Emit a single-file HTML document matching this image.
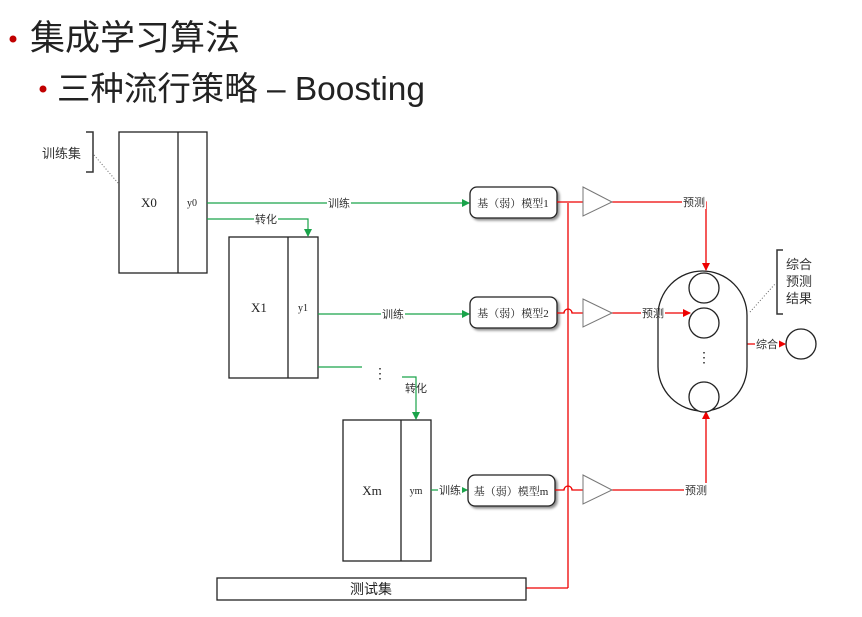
<!DOCTYPE html>
<html><head><meta charset="utf-8"><style>
html,body{margin:0;padding:0;background:#fff;}
svg{display:block;font-family:"Liberation Serif","Noto Serif CJK SC",serif;}
.s{font-family:"Liberation Sans","Noto Sans CJK SC",sans-serif;}
</style></head><body>
<svg width="862" height="617" viewBox="0 0 862 617" xmlns="http://www.w3.org/2000/svg">
<defs>
<marker id="ga" markerWidth="8" markerHeight="8" refX="7" refY="4" orient="auto" markerUnits="userSpaceOnUse"><path d="M0,0 L8,4 L0,8z" fill="#1aa34a"/></marker>
<marker id="ra" markerWidth="8" markerHeight="8" refX="7" refY="4" orient="auto" markerUnits="userSpaceOnUse"><path d="M0,0 L8,4 L0,8z" fill="#e00"/></marker>
<filter id="sh" x="-10%" y="-10%" width="130%" height="140%"><feDropShadow dx="2" dy="2" stdDeviation="1.2" flood-color="#000" flood-opacity="0.45"/></filter>
</defs>
<!-- titles -->
<circle cx="13" cy="39" r="3.5" fill="#c00000"/>
<text x="30" y="50" class="s" font-size="35" fill="#222" textLength="210" lengthAdjust="spacingAndGlyphs">集成学习算法</text>
<circle cx="43" cy="89" r="3.5" fill="#c00000"/>
<text x="57" y="100" class="s" font-size="33" fill="#222" textLength="368" lengthAdjust="spacingAndGlyphs">三种流行策略 – Boosting</text>

<!-- training set bracket -->
<text x="42" y="158" class="s" font-size="13" fill="#333">训练集</text>
<path d="M86,132 H93 V172 H86" fill="none" stroke="#333" stroke-width="1.5"/>
<line x1="94" y1="155" x2="118" y2="183" stroke="#666" stroke-dasharray="1,2"/>

<!-- data boxes -->
<g fill="#fff" stroke="#222" stroke-width="1.3">
<rect x="119" y="132" width="88" height="141"/><line x1="178" y1="132" x2="178" y2="273"/>
<rect x="229" y="237" width="89" height="141"/><line x1="288" y1="237" x2="288" y2="378"/>
<rect x="343" y="420" width="88" height="141"/><line x1="401" y1="420" x2="401" y2="561"/>
</g>
<g font-size="13" fill="#222" text-anchor="middle">
<text x="149" y="207">X0</text><text x="192" y="206" font-size="10">y0</text>
<text x="259" y="312">X1</text><text x="303" y="311" font-size="10">y1</text>
<text x="372" y="495">Xm</text><text x="416" y="494" font-size="10">ym</text>
</g>

<!-- green connectors -->
<g stroke="#1aa34a" stroke-width="1.2" fill="none">
<line x1="207" y1="203" x2="469" y2="203" marker-end="url(#ga)"/>
<path d="M207,219 H308 V236" marker-end="url(#ga)"/>
<line x1="318" y1="314" x2="469" y2="314" marker-end="url(#ga)"/>
<line x1="318" y1="367" x2="362" y2="367"/>
<path d="M402,377 H416 V419" marker-end="url(#ga)"/>
<line x1="431" y1="490" x2="467" y2="490" marker-end="url(#ga)"/>
</g>
<g font-size="11" fill="#333" text-anchor="middle" class="s">
<rect x="327" y="196" width="24" height="14" fill="#fff"/><text x="339" y="207">训练</text>
<rect x="254" y="212" width="24" height="14" fill="#fff"/><text x="266" y="223">转化</text>
<rect x="381" y="307" width="24" height="14" fill="#fff"/><text x="393" y="318">训练</text>
<text x="416" y="392">转化</text>
<rect x="438" y="483" width="24" height="14" fill="#fff"/><text x="450" y="494">训练</text>
</g>
<text x="380" y="378" font-size="14" text-anchor="middle" fill="#222">⋮</text>

<!-- model boxes -->
<g fill="#fff" stroke="#222" stroke-width="1.3" filter="url(#sh)">
<rect x="470" y="187" width="87" height="31" rx="7"/>
<rect x="470" y="297" width="87" height="31" rx="7"/>
<rect x="468" y="475" width="87" height="31" rx="7"/>
</g>
<g font-size="11" fill="#222" text-anchor="middle">
<text x="513" y="207">基（弱）模型1</text>
<text x="513" y="317">基（弱）模型2</text>
<text x="511" y="495">基（弱）模型m</text>
</g>

<!-- red connectors -->
<g stroke="#e00" stroke-width="1.3" fill="none">
<line x1="568" y1="203" x2="568" y2="588"/>
<line x1="557" y1="202" x2="593" y2="202"/>
<path d="M557,313 H564 A4,4 0 0 1 572,313 H593"/>
<path d="M555,490 H564 A4,4 0 0 1 572,490 H593"/>
<path d="M612,202 H706 V270" marker-end="url(#ra)"/>
<line x1="612" y1="313" x2="690" y2="313" marker-end="url(#ra)"/>
<path d="M612,490 H706 V412" marker-end="url(#ra)"/>
<line x1="747" y1="344" x2="785" y2="344" marker-end="url(#ra)"/>
<line x1="526" y1="588" x2="568" y2="588"/>
</g>
<g fill="#fff" stroke="#777" stroke-width="1">
<path d="M583,187 L612,202 L583,216z"/>
<path d="M583,299 L612,313 L583,327z"/>
<path d="M583,475 L612,490 L583,504z"/>
</g>
<g font-size="11" fill="#333" text-anchor="middle" class="s">
<rect x="682" y="195" width="24" height="14" fill="#fff"/><text x="694" y="206">预测</text>
<rect x="641" y="306" width="24" height="14" fill="#fff"/><text x="653" y="317">预测</text>
<rect x="684" y="483" width="24" height="14" fill="#fff"/><text x="696" y="494">预测</text>
<rect x="755" y="337" width="24" height="14" fill="#fff"/><text x="767" y="348">综合</text>
</g>

<!-- capsule -->
<rect x="658" y="271" width="89" height="140" rx="44.5" fill="none" stroke="#222" stroke-width="1.3"/>
<g fill="#fff" stroke="#222" stroke-width="1.3">
<circle cx="704" cy="288" r="15"/>
<circle cx="704" cy="323" r="15"/>
<circle cx="704" cy="397" r="15"/>
<circle cx="801" cy="344" r="15"/>
</g>
<text x="704" y="362" font-size="14" text-anchor="middle" fill="#222">⋮</text>
<!-- result bracket -->
<path d="M783,250 H777 V314 H783" fill="none" stroke="#333" stroke-width="1.5"/>
<line x1="750" y1="312" x2="775" y2="284" stroke="#666" stroke-dasharray="1,2"/>
<g class="s" font-size="13" fill="#333">
<text x="786" y="269">综合</text><text x="786" y="286">预测</text><text x="786" y="303">结果</text>
</g>

<!-- test set -->
<rect x="217" y="578" width="309" height="22" fill="#fff" stroke="#222" stroke-width="1.3"/>
<text x="371" y="594" class="s" font-size="14" text-anchor="middle" fill="#222">测试集</text>
</svg>
</body></html>
